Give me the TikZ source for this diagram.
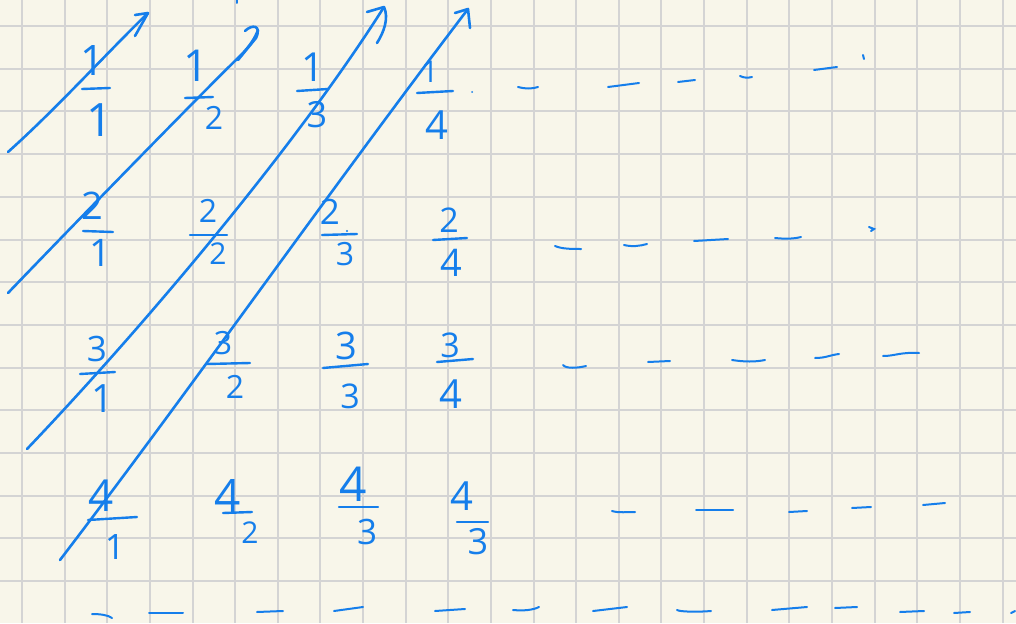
\documentclass[tikz,border=0pt]{standalone}
\usepackage{fontspec}
\newfontfamily\hand{Open Sans}
\definecolor{paper}{HTML}{F8F6EA}
\definecolor{gridc}{HTML}{D4D4D4}
\definecolor{ink}{HTML}{157EEB}
\tikzset{
  gridline/.style={draw=gridc, line width=2pt},
  inkline/.style={draw=ink, line width=2.6pt, line cap=round, line join=round},
  barline/.style={draw=ink, line width=2.4pt, line cap=round},
  dashstroke/.style={draw=ink, line width=2pt, line cap=round},
  dig/.style={font=\hand\fontsize{#1}{#1}\selectfont, text=ink, inner sep=0pt},
}
\begin{document}
\begin{tikzpicture}[x=1pt,y=-1pt]
\useasboundingbox (0,0) rectangle (1016,623);
\fill[paper] (0,0) rectangle (1016,623);
\foreach \k in {0,...,23} \draw[gridline] ({22+42.63*\k},0) -- ({22+42.63*\k},623);
\foreach \k in {0,...,13} \draw[gridline] (0,{26+42.7*\k}) -- (1016,{26+42.7*\k});

% fractions: numerators
\node[dig=42] (n11) at (93,61) {1};
\node[dig=44] (n12) at (196,66) {1};
\node[dig=40] (n13) at (313,67) {1};
\node[dig=30] (n14) at (430,72) {1};
\node[dig=38] (n21) at (92,206) {2};
\node[dig=32] (n22) at (208,211) {2};
\node[dig=35] (n23) at (330,212) {2};
\node[dig=34] (n24) at (449,220) {2};
\node[dig=35] (n31) at (97,349) {3};
\node[dig=32] (n32) at (223,343) {3};
\node[dig=38] (n33) at (346,346) {3};
\node[dig=34] (n34) at (450,345) {3};
\node[dig=44] (n41) at (101,496) {4};
\node[dig=46] (n42) at (228,496) {4};
\node[dig=48] (n43) at (353,484) {4};
\node[dig=40] (n44) at (462,496) {4};
% denominators
\node[dig=46] (d11) at (100,120) {1};
\node[dig=32] (d12) at (214,118) {2};
\node[dig=36] (d13) at (317,115) {3};
\node[dig=40] (d14) at (437,125) {4};
\node[dig=38] (d21) at (100,253) {1};
\node[dig=30] (d22) at (218,254) {2};
\node[dig=32] (d23) at (345,254) {3};
\node[dig=38] (d24) at (451,263) {4};
\node[dig=39] (d31) at (103,399) {1};
\node[dig=32] (d32) at (235,387) {2};
\node[dig=34] (d33) at (350,396) {3};
\node[dig=40] (d34) at (451,394) {4};
\node[dig=35] (d41) at (115,547) {1};
\node[dig=30] (d42) at (250,533) {2};
\node[dig=35] (d43) at (367,532) {3};
\node[dig=36] (d44) at (478,542) {3};
% fraction bars
\draw[barline] (82,89) -- (110,88);
\draw[barline] (185,98) -- (213,97);
\draw[barline] (297,91) -- (328,89);
\draw[barline] (417,93) -- (453,91);
\draw[barline] (83,231) -- (113,232);
\draw[barline] (190,235) -- (227,235);
\draw[barline] (322,235) -- (357,234);
\draw[barline] (433,240) -- (467,238);
\draw[barline] (80,374) -- (115,372);
\draw[barline] (207,364) -- (250,363);
\draw[barline] (323,368) -- (368,364);
\draw[barline] (437,362) -- (473,359);
\draw[barline] (88,520) -- (137,517);
\draw[barline] (223,513) -- (252,512);
\draw[barline] (339,507) -- (378,507);
\draw[barline] (457,522) -- (488,522);
\fill[ink] (347,231) circle (1.2pt);

% diagonal arrows
\coordinate (a1s) at (8,152);   \coordinate (a1e) at (148,13);
\coordinate (a2s) at (8,293);   \coordinate (a2e) at (258,30);
\coordinate (a3s) at (27,449);  \coordinate (a3e) at (384,7);
\coordinate (a4s) at (60,560);  \coordinate (a4e) at (468,9);
\draw[inkline] (a1s) .. controls (55,110) and (105,55) .. (a1e);
\draw[inkline] (135,15) -- (a1e) -- (135,36);
\draw[inkline] (a2s) .. controls (80,218) and (200,95) .. (240,56) .. controls (250,46) and (255,38) .. (a2e);
\draw[inkline] (245,31) .. controls (252,24) and (262,25) .. (256,38) -- (238,60);
\draw[inkline] (a3s) .. controls (150,320) and (300,140) .. (a3e);
\draw[inkline] (367,12) -- (a3e) .. controls (389,18) and (384,32) .. (377,43);
\draw[inkline] (a4s) .. controls (190,390) and (330,190) .. (a4e);
\draw[inkline] (455,13) -- (a4e) -- (470,28);
\draw[dashstroke] (237,0) -- (237,3);

% dashes row 1
\fill[ink] (472,92) circle (1pt);
\draw[dashstroke] (518,87) .. controls (525,89) and (532,89) .. (538,87);
\draw[dashstroke] (608,87) -- (639,83);
\draw[dashstroke] (678,82) -- (695,80);
\draw[dashstroke] (740,76) .. controls (744,78) and (748,78) .. (752,77);
\draw[dashstroke] (814,70) -- (837,67);
\draw[dashstroke] (863,55) -- (864,59);
% row 2
\draw[dashstroke] (555,246) .. controls (562,249) and (572,249) .. (581,249);
\draw[dashstroke] (624,245) .. controls (632,247) and (640,246) .. (647,244);
\draw[dashstroke] (694,241) -- (728,239);
\draw[dashstroke] (775,238) .. controls (785,239) and (793,239) .. (801,237);
\draw[dashstroke] (869,227) -- (874,229) -- (871,231);
% row 3
\draw[dashstroke] (563,365) .. controls (566,369) and (578,368) .. (586,366);
\draw[dashstroke] (648,362) -- (670,361);
\draw[dashstroke] (732,360) .. controls (745,362) and (755,362) .. (765,360);
\draw[dashstroke] (815,358) .. controls (826,358) and (830,355) .. (839,354);
\draw[dashstroke] (883,356) .. controls (895,356) and (900,352) .. (919,353);
% row 4
\draw[dashstroke] (612,511) .. controls (618,513) and (628,512) .. (635,512);
\draw[dashstroke] (696,510) -- (733,510);
\draw[dashstroke] (789,512) -- (807,511);
\draw[dashstroke] (852,508) -- (871,507);
\draw[dashstroke] (923,505) -- (945,503);
% bottom row
\draw[dashstroke] (92,614) .. controls (100,614) and (108,615) .. (112,618);
\draw[dashstroke] (149,613) -- (183,613);
\draw[dashstroke] (257,612) -- (283,611);
\draw[dashstroke] (334,611) -- (363,607);
\draw[dashstroke] (435,611) -- (465,609);
\draw[dashstroke] (513,610) .. controls (524,611) and (533,610) .. (539,607);
\draw[dashstroke] (593,611) -- (627,607);
\draw[dashstroke] (677,610) .. controls (680,612) and (700,612) .. (711,611);
\draw[dashstroke] (772,610) -- (807,607);
\draw[dashstroke] (835,608) -- (857,607);
\draw[dashstroke] (900,612) -- (924,611);
\draw[dashstroke] (954,613) -- (970,612);
\draw[dashstroke] (1011,613) -- (1015,611);
\end{tikzpicture}
\end{document}
